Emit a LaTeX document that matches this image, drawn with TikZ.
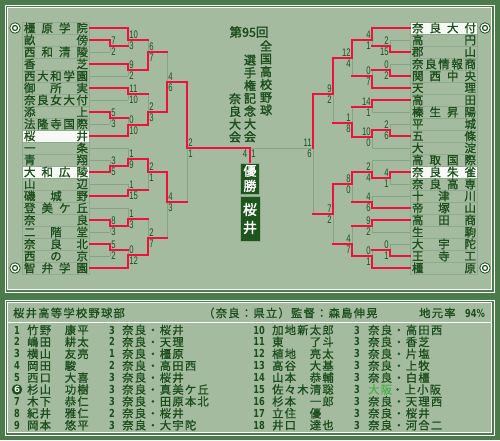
\documentclass[tikz,border=0pt]{standalone}
\usepackage{fontspec}
\usepackage{graphicx}
\newfontfamily\jp[FakeBold=1.2]{Noto Sans CJK JP}
\newfontfamily\jpt[FakeBold=1.2,LetterSpace=11]{Noto Sans CJK JP}
\newfontfamily\jpb[FakeBold=2]{Noto Sans CJK JP}
\newfontfamily\dg{Liberation Sans}
\newfontfamily\dgb{DejaVu Sans}
\definecolor{bgdark}{HTML}{4B7B4B}
\definecolor{pale}{HTML}{A4BBA0}
\definecolor{ink}{HTML}{1C4E1C}
\definecolor{wred}{HTML}{F0103C}
\definecolor{lgray}{HTML}{88A285}
\definecolor{boxline}{HTML}{90AA8D}
\definecolor{lgreen}{HTML}{4DB04D}
\definecolor{wbox}{HTML}{F6F9F6}
\definecolor{dbox}{HTML}{1D551D}
\pgfdeclarelayer{bg}
\pgfdeclarelayer{gl}
\pgfsetlayers{bg,gl,main}
\newcounter{scn}
\newcommand\sq[1]{\scalebox{0.7}[1]{#1}}
\newcommand\sqt[1]{\scalebox{0.75}[1]{#1}}
\newcommand\JJ[1]{\makebox[64pt]{#1}}
\tikzset{
  tm/.style={draw=boxline, line width=0.8pt, fill=pale, minimum width=67pt, minimum height=12pt, inner sep=0pt, text=ink, font=\jp\fontsize{11.5}{11.5}\selectfont},
  hm/.style={tm, fill=wbox},
  wl/.style={draw=wred, line width=1.4pt, line cap=rect},
  ll/.style={draw=lgray, line width=1pt},
  sc/.style={inner sep=0pt, text=ink, font=\dg\fontsize{11}{11}\selectfont},
  seedo/.style={circle, draw=ink, fill=white, line width=0.8pt, minimum size=10.5pt, inner sep=0pt},
  seedi/.style={circle, draw=ink, fill=white, line width=1.2pt, minimum size=5pt, inner sep=0pt},
  ttl/.style={inner sep=0pt, text=ink, align=center, font=\jpb\fontsize{12}{12.8}\selectfont},
  dbx/.style={fill=dbox, draw=boxline, line width=0.6pt, inner sep=0pt, text=white, align=center},
  tname/.style={inner sep=0pt, text=ink, anchor=west, font=\jpt\fontsize{11.3}{11.3}\selectfont},
  tnum/.style={inner sep=0pt, text=ink, font=\dgb\bfseries\fontsize{11}{11}\selectfont}
}
% match on the left: J yt yb yo N top bottom winner(t/b)
\newcommand\mL[8]{%
  \begin{pgfonlayer}{gl}
    \if#8t\draw[ll] (#1,#4) -- (#1,#3);\else\draw[ll] (#1,#2) -- (#1,#4);\fi
  \end{pgfonlayer}
  \if#8t\draw[wl] (#1,#2) -- (#1,#4);\else\draw[wl] (#1,#4) -- (#1,#3);\fi
  \draw[wl] (#1,#4) -- (#5,#4);
  \stepcounter{scn}\node[sc,anchor=west] (s\arabic{scn}) at (#1+1.2,#4-5.5) {\sq{#6}};
  \stepcounter{scn}\node[sc,anchor=west] (s\arabic{scn}) at (#1+1.2,#4+5.5) {\sq{#7}};
}
\newcommand\mR[8]{%
  \begin{pgfonlayer}{gl}
    \if#8t\draw[ll] (#1,#4) -- (#1,#3);\else\draw[ll] (#1,#2) -- (#1,#4);\fi
  \end{pgfonlayer}
  \if#8t\draw[wl] (#1,#2) -- (#1,#4);\else\draw[wl] (#1,#4) -- (#1,#3);\fi
  \draw[wl] (#1,#4) -- (#5,#4);
  \stepcounter{scn}\node[sc,anchor=east] (s\arabic{scn}) at (#1-1.2,#4-5.5) {\sq{#6}};
  \stepcounter{scn}\node[sc,anchor=east] (s\arabic{scn}) at (#1-1.2,#4+5.5) {\sq{#7}};
}
\newcommand\sgw[2]{\draw[wl] (#1) -- ++(#2,0);}
\newcommand\sgl[2]{\begin{pgfonlayer}{gl}\draw[ll] (#1) -- ++(#2,0);\end{pgfonlayer}}
\begin{document}
\begin{tikzpicture}[x=1pt,y=-1pt]
\useasboundingbox (0,0) rectangle (500,440);
\begin{pgfonlayer}{bg}
\fill[bgdark] (0,0) rectangle (500,440);
\fill[pale] (7,7) rectangle (492,290);
\draw[white, line width=1pt] (5,5) rectangle (494,292);
\draw[white, line width=1pt] (7.5,7.5) rectangle (491.5,289.5);
\fill[pale] (7,302) rectangle (492,433);
\draw[white, line width=1pt] (5,300) rectangle (494,435);
\draw[white, line width=1pt] (7.5,302.5) rectangle (491.5,432.5);
\draw[white, line width=1pt] (7.5,322.5) -- (491.5,322.5);
\end{pgfonlayer}

% ---------- left teams
\node[tm] (L0) at (56,28) {\JJ{橿\hfill 原\hfill 学\hfill 院}};
\node[tm] (L1) at (56,40) {\JJ{畝\hfill 傍}};
\node[tm] (L2) at (56,52) {\JJ{西\hfill 和\hfill 清\hfill 陵}};
\node[tm] (L3) at (56,64) {\JJ{香\hfill 芝}};
\node[tm] (L4) at (56,76) {\JJ{西\hfill 大\hfill 和\hfill 学\hfill 園}};
\node[tm] (L5) at (56,88) {\JJ{御\hfill 所\hfill 実}};
\node[tm] (L6) at (56,100) {\JJ{奈\hfill 良\hfill 女\hfill 大\hfill 付}};
\node[tm] (L7) at (56,112) {\JJ{添\hfill 上}};
\node[tm] (L8) at (56,124) {\JJ{法\hfill 隆\hfill 寺\hfill 国\hfill 際}};
\node[hm] (L9) at (56,136) {\JJ{桜\hfill 井}};
\node[tm] (L10) at (56,148) {\JJ{一\hfill 条}};
\node[tm] (L11) at (56,160) {\JJ{青\hfill 翔}};
\node[hm] (L12) at (56,172) {\JJ{大\hfill 和\hfill 広\hfill 陵}};
\node[tm] (L13) at (56,184) {\JJ{山\hfill 辺}};
\node[tm] (L14) at (56,196) {\JJ{磯\hfill 城\hfill 野}};
\node[tm] (L15) at (56,208) {\JJ{登\hfill 美\hfill ケ\hfill 丘}};
\node[tm] (L16) at (56,220) {\JJ{奈\hfill 良}};
\node[tm] (L17) at (56,232) {\JJ{二\hfill 階\hfill 堂}};
\node[tm] (L18) at (56,244) {\JJ{奈\hfill 良\hfill 北}};
\node[tm] (L19) at (56,256) {\JJ{西\hfill の\hfill 京}};
\node[tm] (L20) at (56,268) {\JJ{智\hfill 弁\hfill 学\hfill 園}};
% ---------- right teams
\node[hm] (R0) at (444,28) {\JJ{奈\hfill 良\hfill 大\hfill 付}};
\node[tm] (R1) at (444,40) {\JJ{高\hfill 円}};
\node[tm] (R2) at (444,52) {\JJ{郡\hfill 山}};
\node[tm] (R3) at (444,64) {\JJ{奈\hfill 良\hfill 情\hfill 報\hfill 商}};
\node[tm] (R4) at (444,76) {\JJ{関\hfill 西\hfill 中\hfill 央}};
\node[tm] (R5) at (444,88) {\JJ{天\hfill 理}};
\node[tm] (R6) at (444,100) {\JJ{高\hfill 田}};
\node[tm] (R7) at (444,112) {\JJ{榛\hfill 生\hfill 昇\hfill 陽}};
\node[tm] (R8) at (444,124) {\JJ{平\hfill 城}};
\node[tm] (R9) at (444,136) {\JJ{五\hfill 條}};
\node[tm] (R10) at (444,148) {\JJ{大\hfill 淀}};
\node[tm] (R11) at (444,160) {\JJ{高\hfill 取\hfill 国\hfill 際}};
\node[hm] (R12) at (444,172) {\JJ{奈\hfill 良\hfill 朱\hfill 雀}};
\node[tm] (R13) at (444,184) {\JJ{奈\hfill 良\hfill 高\hfill 専}};
\node[tm] (R14) at (444,196) {\JJ{十\hfill 津\hfill 川}};
\node[tm] (R15) at (444,208) {\JJ{帝\hfill 塚\hfill 山}};
\node[tm] (R16) at (444,220) {\JJ{高\hfill 田\hfill 商}};
\node[tm] (R17) at (444,232) {\JJ{生\hfill 駒}};
\node[tm] (R18) at (444,244) {\JJ{大\hfill 宇\hfill 陀}};
\node[tm] (R19) at (444,256) {\JJ{王\hfill 寺\hfill 工}};
\node[tm] (R20) at (444,268) {\JJ{橿\hfill 原}};

% seeds
\node[seedo] (sd1) at (15,28) {}; \node[seedi] (sd1i) at (sd1) {};
\node[seedo] (sd2) at (15,268) {}; \node[seedi] (sd2i) at (sd2) {};
\node[seedo] (sd3) at (485,28) {}; \node[seedi] (sd3i) at (sd3) {};
\node[seedo] (sd4) at (485,268) {}; \node[seedi] (sd4i) at (sd4) {};

% ---------- left first segments
\sgw{L0.east}{38.5} \sgw{L1.east}{20.5} \sgl{L2.east}{20.5}
\sgw{L3.east}{38.5} \sgl{L4.east}{38.5} \sgw{L5.east}{38.5} \sgl{L6.east}{38.5}
\sgw{L7.east}{20.5} \sgl{L8.east}{20.5} \sgw{L9.east}{38.5} \sgl{L10.east}{38.5}
\sgl{L11.east}{20.5} \sgw{L12.east}{20.5} \sgl{L13.east}{38.5} \sgw{L14.east}{38.5}
\sgl{L15.east}{38.5} \sgw{L16.east}{20.5} \sgl{L17.east}{20.5} \sgw{L18.east}{20.5}
\sgl{L19.east}{20.5} \sgw{L20.east}{38.5}
% ---------- right first segments
\sgw{R0.west}{-38.5} \sgl{R1.west}{-20.5} \sgw{R2.west}{-20.5}
\sgl{R3.west}{-20.5} \sgw{R4.west}{-20.5} \sgw{R5.west}{-38.5} \sgw{R6.west}{-38.5}
\sgl{R7.west}{-38.5} \sgl{R8.west}{-20.5} \sgw{R9.west}{-20.5} \sgl{R10.west}{-38.5}
\sgl{R11.west}{-38.5} \sgw{R12.west}{-20.5} \sgl{R13.west}{-20.5} \sgl{R14.west}{-38.5}
\sgw{R15.west}{-38.5} \sgw{R16.west}{-38.5} \sgl{R17.west}{-38.5} \sgl{R18.west}{-20.5}
\sgw{R19.west}{-20.5} \sgw{R20.west}{-38.5}

% ---------- left rounds
\mL{110}{40}{52}{46}{128}{7}{2}{t}
\mL{110}{112}{124}{118}{128}{5}{3}{t}
\mL{110}{160}{172}{166}{128}{3}{5}{b}
\mL{110}{220}{232}{226}{128}{8}{3}{t}
\mL{110}{244}{256}{250}{128}{5}{2}{t}
\mL{128}{28}{46}{40}{148}{10}{3}{t}
\mL{128}{64}{76}{70}{148}{9}{2}{t}
\mL{128}{88}{100}{94}{148}{11}{10}{t}
\mL{128}{118}{136}{125}{148}{0}{10}{b}
\mL{128}{148}{166}{159}{148}{1}{9}{b}
\mL{128}{184}{196}{190}{148}{1}{15}{b}
\mL{128}{208}{226}{219}{148}{1}{3}{b}
\mL{128}{250}{268}{255}{148}{0}{12}{b}
\mL{148}{40}{70}{52}{167}{6}{7}{b}
\mL{148}{94}{125}{112}{167}{2}{3}{b}
\mL{148}{159}{190}{172}{167}{2}{1}{t}
\mL{148}{219}{255}{238}{167}{2}{7}{b}
\mL{167}{52}{112}{82}{187}{4}{6}{b}
\mL{167}{172}{238}{202}{187}{4}{3}{t}
\mL{187}{82}{202}{148}{250}{2}{1}{t}
% ---------- right rounds
\mR{390}{40}{52}{46}{372}{2}{15}{b}
\mR{390}{64}{76}{70}{372}{0}{2}{b}
\mR{390}{124}{136}{130}{372}{2}{6}{b}
\mR{390}{172}{184}{178}{372}{4}{1}{t}
\mR{390}{244}{256}{250}{372}{0}{1}{b}
\mR{372}{28}{46}{40}{352}{4}{1}{t}
\mR{372}{70}{88}{76}{352}{0}{7}{b}
\mR{372}{100}{112}{107}{352}{14}{1}{t}
\mR{372}{130}{148}{137}{352}{10}{0}{t}
\mR{372}{160}{178}{172}{352}{2}{4}{b}
\mR{372}{196}{208}{202}{352}{4}{6}{b}
\mR{372}{220}{232}{226}{352}{9}{2}{t}
\mR{372}{250}{268}{256}{352}{0}{1}{b}
\mR{352}{40}{76}{58}{333}{12}{4}{t}
\mR{352}{107}{137}{123}{333}{1}{8}{b}
\mR{352}{172}{202}{184}{333}{8}{0}{t}
\mR{352}{226}{256}{244}{333}{4}{7}{b}
\mR{333}{58}{123}{94}{313}{9}{2}{t}
\mR{333}{184}{244}{214}{313}{7}{2}{t}
% right final block (loser of final)
\begin{pgfonlayer}{gl}
\draw[ll] (313,148) -- (313,214);
\draw[ll] (250,148) -- (313,148);
\end{pgfonlayer}
\draw[wl] (313,94) -- (313,148);
\node[sc,anchor=east] (f1) at (311.8,142.5) {\sq{11}};
\node[sc,anchor=east] (f2) at (311.8,153.5) {\sq{6}};

% ---------- title and champion
\node[ttl, font=\jpb\fontsize{12.5}{12.8}\selectfont] (t0) at (249,32) {第95回};
\node[ttl] (t1) at (266,78) {全\\国\\高\\校\\野\\球};
\node[ttl] (t2) at (250,98.5) {選\\手\\権\\記\\念\\大\\会};
\node[ttl] (t3) at (235,117.8) {奈\\良\\大\\会};
\node[dbx, minimum width=18.5pt, minimum height=31pt, font=\jpb\fontsize{13}{15}\selectfont] (win) at (250,178.3) {優\\勝};
\node[dbx, minimum width=20pt, minimum height=45pt, font=\jpb\fontsize{14}{18}\selectfont] (champ) at (250,218.5) {桜\\井};
\draw[wl] (250,148) -- (win.north);
\node[sc] (fs1) at (245,154) {\sq{4}};
\node[sc] (fs2) at (253.5,154) {\sq{1}};

% ---------- roster panel
\node[tname] (h1) at (13,313) {桜井高等学校野球部};
\node[tname] (h2) at (203,313) {（奈良：県立）監督：森島伸晃};
\node[tname] (h3) at (419,313) {地元率};
\node[tnum, anchor=west] (h4) at (465,313) {\sqt{94\%}};
\foreach \n/\nm/\g/\s [count=\k from 0] in {1/竹野　康平/3/奈良・桜井, 2/嶋田　耕太/2/奈良・天理, 3/横山　友亮/1/奈良・橿原, 4/岡田　駿/2/奈良・高田西, 5/西口　大喜/3/奈良・桜井, 6/杉山　功樹/3/奈良・真美ケ丘, 7/木下　恭仁/3/奈良・田原本北, 8/紀井　雅仁/2/奈良・桜井, 9/岡本　悠平/3/奈良・大宇陀}{
  \ifnum\n=6\relax\else\node[tnum] (pn\n) at (17,330+11.9*\k) {\sqt{\n}};\fi
  \node[tname] (pm\n) at (27,330+11.9*\k) {\nm};
  \node[tnum] (pg\n) at (112,330+11.9*\k) {\sqt{\g}};
  \node[tname] (ps\n) at (122,330+11.9*\k) {\s};
}
\node[circle, fill=ink, minimum size=10.5pt, inner sep=0pt, text=white, font=\dgb\bfseries\fontsize{8.5}{8.5}\selectfont] (cap) at (17,389.5) {6};
\foreach \n/\nm/\g/\s [count=\k from 0] in {10/加地新太郎/3/奈良・高田西, 11/東　　了斗/3/奈良・香芝, 12/植地　亮太/3/奈良・片塩, 13/高谷　大基/3/奈良・上牧, 14/山本　恭輔/3/奈良・白橿, 15/佐々木清聡/3/{\textcolor{lgreen}{大阪}・上小阪}, 16/杉本　一郎/3/奈良・天理西, 17/立住　優/3/奈良・桜井, 18/井口　達也/3/奈良・河合二}{
  \node[tnum] (pn\n) at (259,330+11.9*\k) {\sqt{\n}};
  \node[tname] (pm\n) at (272,330+11.9*\k) {\nm};
  \node[tnum] (pg\n) at (357,330+11.9*\k) {\sqt{\g}};
  \node[tname] (ps\n) at (368,330+11.9*\k) {\s};
}
\end{tikzpicture}
\end{document}
